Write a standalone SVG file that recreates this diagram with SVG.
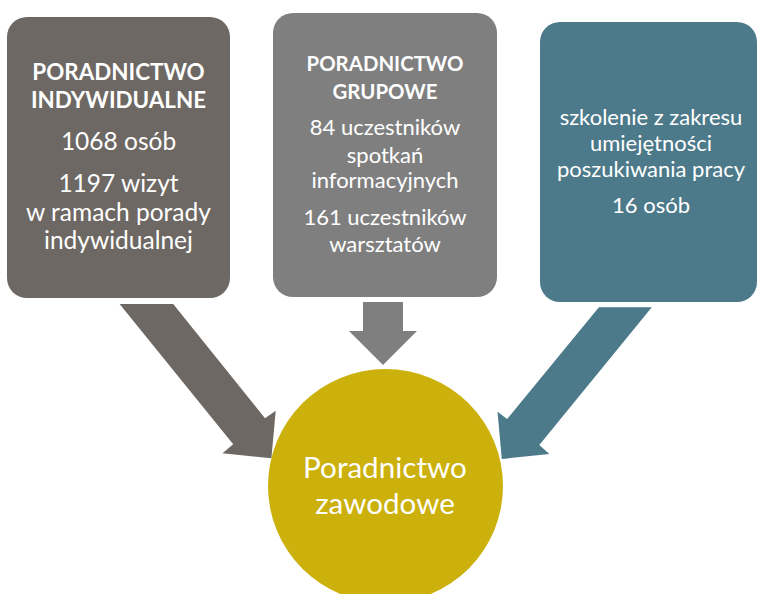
<svg xmlns="http://www.w3.org/2000/svg" width="757" height="594" viewBox="0 0 757 594">
<style>
.t{font-family:Lato,"Open Sans","Liberation Sans",sans-serif;fill:#ffffff;text-anchor:middle;font-size:22px}
.b{font-weight:bold}
.l{font-size:24.5px}
.c1{fill:#6d6863}
.c2{fill:#7f7f7f}
.c3{fill:#4c7a8a}
.c4{fill:#ccb00c}
</style>
<rect width="757" height="594" fill="#ffffff"/>
<g id="connectors">
<polygon class="c1" points="119.6,304 233.2,444.3 222.5,453.3 271.4,458.3 275.7,410.7 265,418.3 173.2,304"/>
<polygon class="c2" points="363,302 403,302 403,331 417,331 383,365 349,331 363,331"/>
<polygon class="c3" points="598.9,307.3 651.8,307.3 539.3,445 549.3,454 501.8,459 497.5,411.7 507.1,419"/>
</g>
<g id="node-indywidualne">
<rect class="c1" x="7" y="17" width="223" height="281" rx="20"/>
<text class="t b" style="font-size:22.4px" x="118.5" y="80">PORADNICTWO</text>
<text class="t b" style="font-size:22.4px" x="118.5" y="108">INDYWIDUALNE</text>
<text class="t l" x="118.5" y="150">1068 osób</text>
<text class="t l" x="118.5" y="192">1197 wizyt</text>
<text class="t l" x="118.5" y="221">w ramach porady</text>
<text class="t l" x="118.5" y="249">indywidualnej</text>
</g>
<g id="node-grupowe">
<rect class="c2" x="273" y="13" width="224" height="284" rx="20"/>
<text class="t b" style="font-size:20.4px" x="385" y="71">PORADNICTWO</text>
<text class="t b" style="font-size:20.4px" x="385" y="99">GRUPOWE</text>
<text class="t" x="385" y="135">84 uczestników</text>
<text class="t" x="385" y="163">spotkań</text>
<text class="t" x="385" y="188">informacyjnych</text>
<text class="t" x="385" y="225">161 uczestników</text>
<text class="t" x="385" y="252">warsztatów</text>
</g>
<g id="node-szkolenie">
<rect class="c3" x="540" y="22" width="217" height="280" rx="20"/>
<text class="t" x="651" y="125">szkolenie z zakresu</text>
<text class="t" x="651" y="151">umiejętności</text>
<text class="t" x="651" y="177">poszukiwania pracy</text>
<text class="t" x="651" y="213">16 osób</text>
</g>
<g id="node-poradnictwo-zawodowe">
<ellipse class="c4" cx="385.5" cy="486" rx="117.5" ry="117"/>
<text class="t" style="font-size:29.6px" x="385" y="478">Poradnictwo</text>
<text class="t" style="font-size:29.6px" x="385" y="514">zawodowe</text>
</g>
</svg>
